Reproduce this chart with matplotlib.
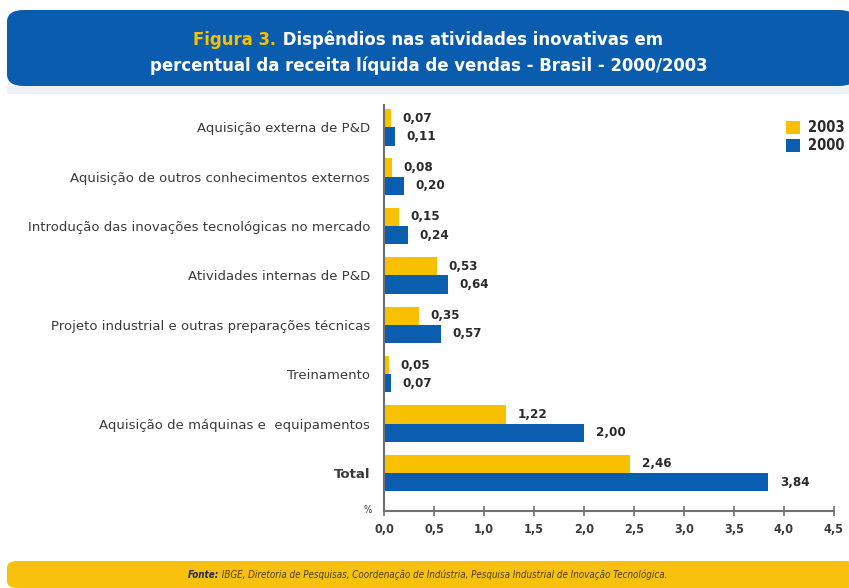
import matplotlib.pyplot as plt
from matplotlib.patches import FancyBboxPatch, Rectangle
import numpy as np

# ---------------------------
# Data
# ---------------------------
categories = [
    "Aquisição externa de P&D",
    "Aquisição de outros conhecimentos externos",
    "Introdução das inovações tecnológicas no mercado",
    "Atividades internas de P&D",
    "Projeto industrial e outras preparações técnicas",
    "Treinamento",
    "Aquisição de máquinas e  equipamentos",
    "Total",
]
values_2003 = [0.07, 0.08, 0.15, 0.53, 0.35, 0.05, 1.22, 2.46]
values_2000 = [0.11, 0.20, 0.24, 0.64, 0.57, 0.07, 2.00, 3.84]
xticks = [0.0, 0.5, 1.0, 1.5, 2.0, 2.5, 3.0, 3.5, 4.0, 4.5]

YELLOW = "#f9c000"
BLUE = "#0b5db0"
BANNER = "#0a5cae"
TEXT = "#3a3a3a"
COND = dict(family="DejaVu Sans", stretch="condensed")

W, H = 849, 588
fig = plt.figure(figsize=(W / 100, H / 100), dpi=100)
fig.patch.set_facecolor("white")

# ---------------------------
# Title banner
# ---------------------------
fig.patches.append(Rectangle((7 / W, 1 - 94 / H), 1, 8 / H, transform=fig.transFigure,
                             facecolor="#edf2f7", edgecolor="none", zorder=0))
fig.patches.append(FancyBboxPatch((7 / W, 1 - 86 / H), 1.0, 76 / H,
                                  boxstyle="round,pad=0,rounding_size=0.02",
                                  transform=fig.transFigure, facecolor=BANNER,
                                  edgecolor="none", zorder=1))

renderer = fig.canvas.get_renderer()
t_fig = fig.text(0, 1 - 40 / H, "Figura 3.", color=YELLOW, fontsize=13.2,
                 fontweight="bold", va="center", ha="left", **COND)
t_rest = fig.text(0, 1 - 40 / H, " Dispêndios nas atividades inovativas em", color="white",
                  fontsize=13.2, fontweight="bold", va="center", ha="left", **COND)
w1 = t_fig.get_window_extent(renderer).width
w2 = t_rest.get_window_extent(renderer).width
x0 = (428 - (w1 + w2) / 2) / W
t_fig.set_x(x0)
t_rest.set_x(x0 + w1 / W)
fig.text(429 / W, 1 - 66 / H, "percentual da receita líquida de vendas - Brasil - 2000/2003",
         color="white", fontsize=13.2, fontweight="bold", va="center", ha="center", **COND)

# ---------------------------
# Bars
# ---------------------------
ax = fig.add_axes([384 / W, 1 - 511 / H, 450 / W, 406 / H])
y = np.arange(len(categories))
h = 0.37
ax.barh(y - h / 2, values_2003, height=h, color=YELLOW, label="2003")
ax.barh(y + h / 2, values_2000, height=h, color=BLUE, label="2000")

for i in range(len(categories)):
    ax.annotate(f"{values_2003[i]:.2f}".replace(".", ","), (values_2003[i], y[i] - h / 2),
                xytext=(8.5, 0), textcoords="offset points", va="center", ha="left",
                fontsize=9.5, fontweight="bold", color="#2a2a2a", **COND)
    ax.annotate(f"{values_2000[i]:.2f}".replace(".", ","), (values_2000[i], y[i] + h / 2),
                xytext=(8.5, 0), textcoords="offset points", va="center", ha="left",
                fontsize=9.5, fontweight="bold", color="#2a2a2a", **COND)

ax.set_xlim(0, 4.5)
ax.set_ylim(7.77, -0.45)
ax.set_yticks(y)
ax.set_yticklabels(categories, fontsize=9.5, color=TEXT, family="DejaVu Sans")
ax.get_yticklabels()[-1].set_fontweight("bold")
ax.tick_params(axis="y", length=0, pad=10)

ax.set_xticks(xticks)
ax.set_xticklabels([f"{t:.1f}".replace(".", ",") for t in xticks], fontsize=9,
                   fontweight="bold", color=TEXT, **COND)
ax.tick_params(axis="x", direction="inout", length=7, width=1.2, color="#707070", pad=5)

for side in ["top", "right"]:
    ax.spines[side].set_visible(False)
ax.spines["left"].set_color("#707070")
ax.spines["left"].set_linewidth(1.5)
ax.spines["bottom"].set_color("#707070")
ax.spines["bottom"].set_linewidth(1.5)

fig.text(368 / W, 1 - 510 / H, "%", fontsize=7, color=TEXT, ha="center", va="center", **COND)

ax.legend(loc="upper right", bbox_to_anchor=(1.052, 0.995), frameon=False,
          handlelength=1.0, handleheight=1.0, handletextpad=0.5, labelspacing=0.2,
          prop=dict(size=10.5, weight="bold", **COND), labelcolor="#2a2a2a")

# ---------------------------
# Footer
# ---------------------------
fig.patches.append(FancyBboxPatch((7 / W, 0), 1.0, 27 / H,
                                  boxstyle="round,pad=0,rounding_size=0.012",
                                  transform=fig.transFigure, facecolor="#f7c10d",
                                  edgecolor="none", zorder=1))
f1 = fig.text(0, 13 / H, "Fonte:", fontsize=7, fontweight="bold", style="italic",
              color="#1d2a55", va="center", ha="left", **COND)
f2 = fig.text(0, 13 / H, " IBGE, Diretoria de Pesquisas, Coordenação de Indústria, "
              "Pesquisa Industrial de Inovação Tecnológica.", fontsize=7, style="italic",
              color="#4a3a20", va="center", ha="left", **COND)
a = f1.get_window_extent(renderer).width
b = f2.get_window_extent(renderer).width
fx = (428 - (a + b) / 2) / W
f1.set_x(fx)
f2.set_x(fx + a / W)

plt.savefig("out.png", dpi=100)
plt.close()
